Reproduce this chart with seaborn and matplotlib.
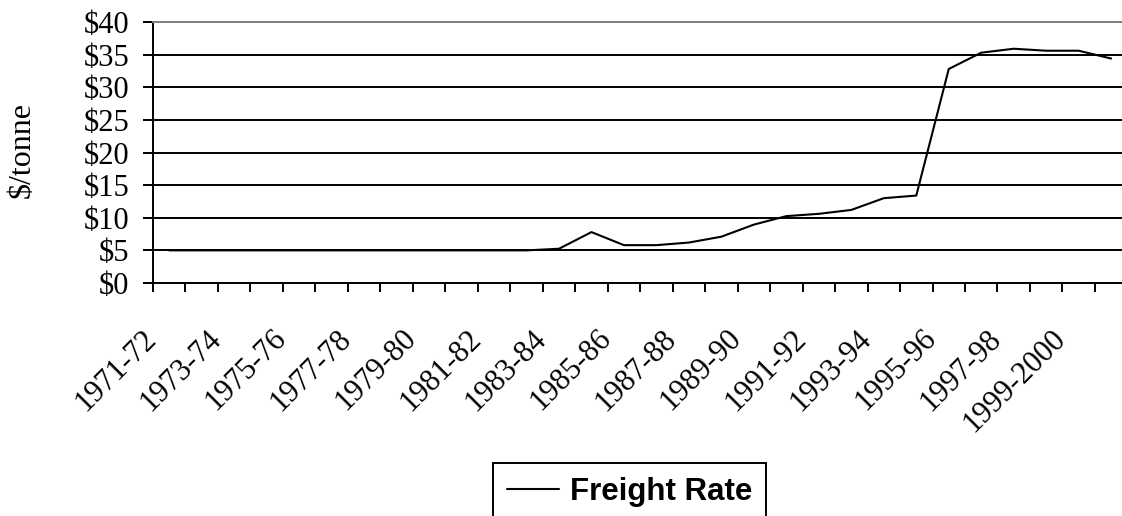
import matplotlib
matplotlib.use("Agg")
import matplotlib.pyplot as plt
import matplotlib.transforms as mtransforms
import pandas as pd
import seaborn as sns

# Financial years on the category axis
years = [
    "1971-72", "1972-73", "1973-74", "1974-75", "1975-76", "1976-77",
    "1977-78", "1978-79", "1979-80", "1980-81", "1981-82", "1982-83",
    "1983-84", "1984-85", "1985-86", "1986-87", "1987-88", "1988-89",
    "1989-90", "1990-91", "1991-92", "1992-93", "1993-94", "1994-95",
    "1995-96", "1996-97", "1997-98", "1998-99", "1999-2000", "2000-01",
]

# Freight rate, $ per tonne
freight_rate = [
    5.0, 5.0, 5.0, 5.0, 5.0, 5.0,
    5.0, 5.0, 5.0, 5.0, 5.0, 5.0,
    5.25, 7.8, 5.8, 5.8, 6.2, 7.1,
    8.95, 10.25, 10.6, 11.2, 13.0, 13.4,
    32.8, 35.3, 35.9, 35.6, 35.6, 34.4,
]

# Y axis ticks and their labels
y_ticks = [0, 5, 10, 15, 20, 25, 30, 35, 40]
y_tick_labels = ["$0", "$5", "$10", "$15", "$20", "$25", "$30", "$35", "$40"]

# Every other year is labelled
x_labelled = years[::2]

series_name = "Freight Rate"
y_title = "$/tonne"

df = pd.DataFrame({"year": years, "rate": freight_rate})

sns.set_theme(style="white")
plt.rcParams["font.family"] = ["Liberation Serif", "DejaVu Serif"]
plt.rcParams["axes.unicode_minus"] = False
plt.rcParams["text.color"] = "black"
plt.rcParams["axes.labelcolor"] = "black"
plt.rcParams["xtick.color"] = "black"
plt.rcParams["ytick.color"] = "black"

W, H = 1122, 516
fig = plt.figure(figsize=(W / 100, H / 100), dpi=100)
fig.patch.set_facecolor("white")

left_px, right_px, top_px, bottom_px = 153, 1127.4, 22, 283
ax = fig.add_axes([left_px / W, (H - bottom_px) / H,
                   (right_px - left_px) / W, (bottom_px - top_px) / H])
ax.set_facecolor("white")

sns.lineplot(data=df, x="year", y="rate", sort=False, color="black",
             linewidth=1.5, label=series_name, ax=ax)

n = len(years)
ax.set_xlim(-0.5, n - 0.5)
ax.set_ylim(0, 40)

# Y axis
ax.set_yticks(y_ticks)
ax.set_yticklabels(y_tick_labels, fontsize=22)
ax.yaxis.grid(True, color="black", linewidth=1.4)
ax.xaxis.grid(False)
ax.tick_params(axis="y", direction="out", length=7.2, width=1.4,
               color="black", pad=10, left=True)
ax.set_ylabel(y_title, fontsize=23)
ax.yaxis.set_label_coords((22.5 - left_px) / (right_px - left_px), 0.51)
ax.yaxis.label.set_verticalalignment("center")

# X axis: tick marks between categories, labels on every other category
label_pos = [years.index(y) for y in x_labelled]
ax.set_xticks(label_pos)
ax.set_xticklabels(x_labelled, fontsize=22, rotation=45,
                   ha="right", va="center", rotation_mode="anchor")
ax.set_xticks([i - 0.5 for i in range(n + 1)], minor=True)
ax.tick_params(axis="x", which="major", length=0, pad=37)
ax.tick_params(axis="x", which="minor", direction="out", length=6.5,
               width=1.4, color="black", bottom=True)
shift = mtransforms.ScaledTranslation(-0.17, 0, fig.dpi_scale_trans)
for lbl in ax.get_xticklabels():
    lbl.set_transform(lbl.get_transform() + shift)
ax.set_xlabel("")

for side in ["left", "bottom"]:
    ax.spines[side].set_visible(True)
    ax.spines[side].set_color("black")
    ax.spines[side].set_linewidth(1.4)
ax.spines["top"].set_visible(True)
ax.spines["top"].set_color("#808080")
ax.spines["top"].set_linewidth(1.4)
ax.spines["right"].set_visible(False)

# Legend below the plot
handles, labels = ax.get_legend_handles_labels()
ax.get_legend().remove()
leg = fig.legend(handles, labels, loc="upper left",
                 bbox_to_anchor=(493 / W, 1 - 463 / H),
                 frameon=True, fancybox=False, framealpha=1,
                 edgecolor="black", borderaxespad=0, borderpad=0.45,
                 handlelength=1.65, handletextpad=0.35,
                 prop={"family": ["Liberation Sans", "DejaVu Sans"],
                       "weight": "bold", "size": 22.5})
leg.get_frame().set_linewidth(1.4)
for line in leg.get_lines():
    line.set_linewidth(1.5)

fig.savefig("out.png", dpi=100, facecolor="white")
